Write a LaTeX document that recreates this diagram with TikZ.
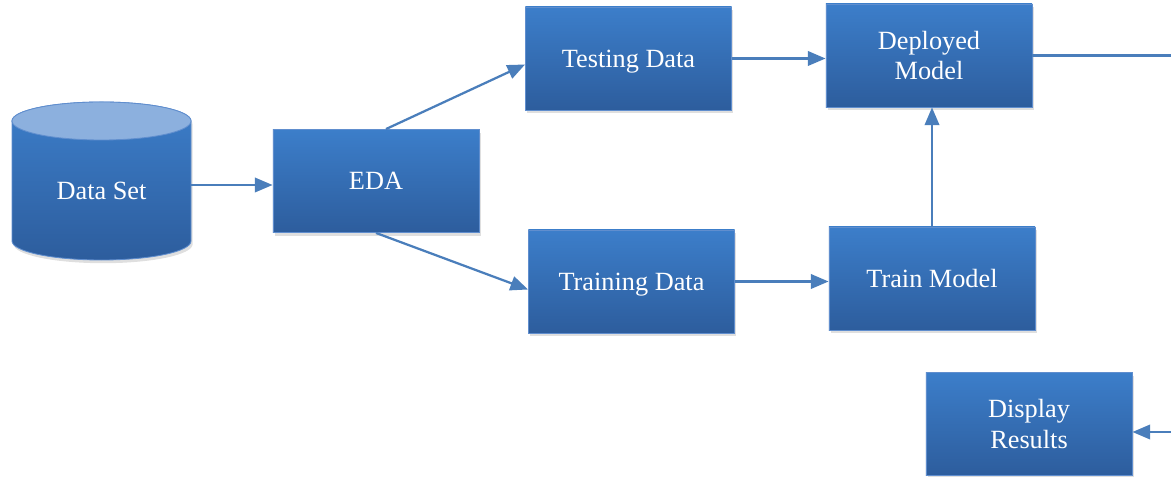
\documentclass[tikz,border=0pt]{standalone}
\usepackage{fontspec}
\setmainfont{Liberation Serif}
\usetikzlibrary{arrows.meta,positioning,calc,shadows}

\definecolor{boxtop}{RGB}{60,126,202}
\definecolor{boxbot}{RGB}{45,93,157}
\definecolor{boxrim}{RGB}{96,142,206}
\definecolor{flowline}{RGB}{74,126,187}
\definecolor{disctop}{RGB}{140,176,222}

\begin{document}
\begin{tikzpicture}[x=0.025cm,y=-0.025cm,
    procbox/.style={draw=boxrim, line width=0.6pt, top color=boxtop, bottom color=boxbot,
      minimum width=5.15cm, minimum height=2.575cm, text=white, align=center,
      font=\fontsize{18.7}{22}\selectfont,
      drop shadow={shadow xshift=0.04cm, shadow yshift=-0.08cm, opacity=0.25}},
    oneline/.style={text depth=0pt},
    flow/.style={draw=flowline, line width=1.6pt, -{Triangle[length=0.44cm,width=0.36cm]}}]
  \useasboundingbox (0,0) rectangle (1171,477);

  % data store: shaded body, then the lighter lid on top
  \path[top color=boxtop, bottom color=boxbot, draw=boxrim, line width=0.6pt,
        drop shadow={shadow xshift=0.04cm, shadow yshift=-0.08cm, opacity=0.25}]
    (12,121) -- (12,241)
    arc[start angle=180, end angle=360, x radius=2.2375cm, y radius=0.475cm]
    -- (191,121)
    arc[start angle=0, end angle=180, x radius=2.2375cm, y radius=0.475cm] -- cycle;
  \draw[boxrim, fill=disctop, line width=0.6pt]
    (101.5,121) ellipse[x radius=2.2375cm, y radius=0.475cm];
  \node[text=white, font=\fontsize{18.7}{22}\selectfont,
        minimum width=4.475cm, minimum height=2.5cm] (dataset) at (101.5,191) {Data Set};

  \node[procbox] (eda) at (376,181) {EDA};
  \node[procbox, oneline] (testing) at (628.5,58.5) {Testing Data};
  \node[procbox] (deployed) at (929,55.5) {Deployed\\Model};
  \node[procbox, oneline] (training) at (631.5,281.5) {Training Data};
  \node[procbox, oneline] (trainmodel) at (932,278.5) {Train Model};
  \node[procbox] (display) at (1029,424) {Display\\Results};

  % the loop back to the results runs off the right side
  \coordinate (edgetop) at (1171,55.5);
  \coordinate (edgelow) at (1171,432);

  \draw[flow] ($(dataset.east)+(0,-6)$) -- ($(dataset.east -| eda.west)+(0,-6)$);
  \draw[flow] ($(eda.north)+(10,0)$) -- ($(testing.west)+(0,6)$);
  \draw[flow] (eda.south) -- ($(training.west)+(0,8)$);
  \draw[flow] (testing.east) -- (testing.east -| deployed.west);
  \draw[flow] (training.east) -- (training.east -| trainmodel.west);
  \draw[flow] (trainmodel.north) -- (trainmodel.north |- deployed.south);
  \draw[flow, -] (deployed.east) -- (edgetop);
  \draw[flow] (edgelow) -- (edgelow -| display.east);
\end{tikzpicture}
\end{document}
